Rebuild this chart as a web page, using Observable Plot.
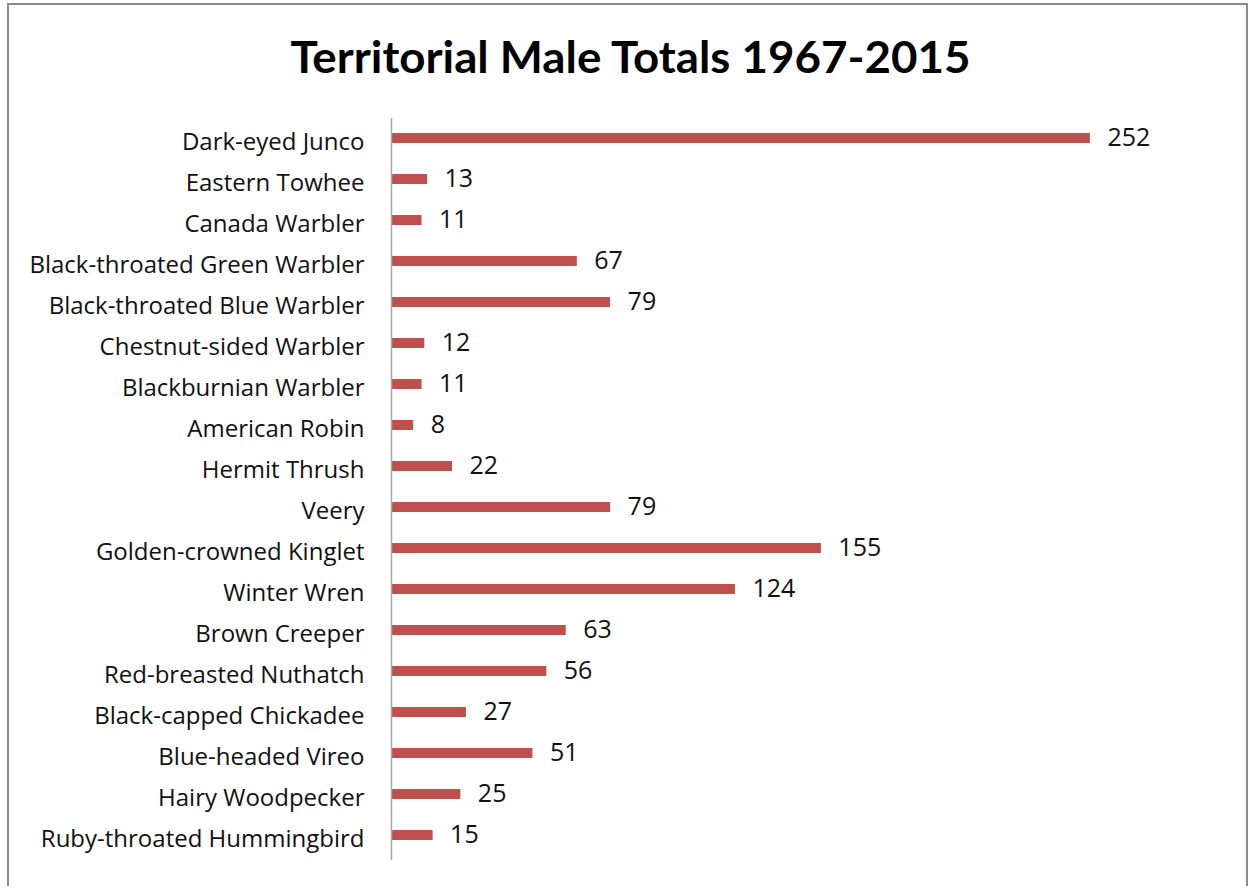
<!DOCTYPE html>
<html>
<head>
<meta charset="utf-8">
<script src="https://cdn.jsdelivr.net/npm/d3@7"></script>
<script src="https://cdn.jsdelivr.net/npm/@observablehq/plot@0.6"></script>
<style>
  html, body { margin: 0; padding: 0; background: #fff; }
  #wrap { position: relative; width: 1254px; height: 886px; overflow: hidden; background: #fff; }
  #frame { position: absolute; left: 7px; top: 3px; width: 1241px; height: 950px; border: 2px solid #8a8a8a; box-sizing: border-box; }
  #title { position: absolute; left: 0; width: 1260px; top: 30px; text-align: center; font-family: Lato, sans-serif; font-weight: bold; font-size: 44px; color: #000; white-space: nowrap; }
  #title span { display: inline-block; transform-origin: center; }
  #chart { position: absolute; left: 0; top: 100px; }
</style>
</head>
<body>
<div id="wrap">
  <div id="frame"></div>
  <div id="title"><span id="tt">Territorial Male Totals 1967-2015</span></div>
  <div id="chart"></div>
</div>
<script>
const species = [
  "Dark-eyed Junco", "Eastern Towhee", "Canada Warbler", "Black-throated Green Warbler",
  "Black-throated Blue Warbler", "Chestnut-sided Warbler", "Blackburnian Warbler",
  "American Robin", "Hermit Thrush", "Veery", "Golden-crowned Kinglet", "Winter Wren",
  "Brown Creeper", "Red-breasted Nuthatch", "Black-capped Chickadee", "Blue-headed Vireo",
  "Hairy Woodpecker", "Ruby-throated Hummingbird"
];
const totals = [252, 13, 11, 67, 79, 12, 11, 8, 22, 79, 155, 124, 63, 56, 27, 51, 25, 15];

const data = species.map((s, i) => ({species: s, total: totals[i]}));

// fit title width
const tt = document.getElementById("tt");
const w = tt.getBoundingClientRect().width;
tt.style.transform = `scaleX(${680 / w})`;

const plot = Plot.plot({
  width: 1254,
  height: 786,
  marginLeft: 391,
  marginRight: 31,
  marginTop: 18,
  marginBottom: 26,
  style: {fontFamily: "'Open Sans', sans-serif", fontSize: "24px", color: "#111", background: "transparent"},
  x: {domain: [0, 300], axis: null},
  y: {domain: species, padding: 0, axis: null},
  marks: [
    Plot.barX(data, {x: "total", y: "species", fill: "#C0504D", insetTop: 13, insetBottom: 18}),
    Plot.ruleX([0], {stroke: "#a6a6a6", strokeWidth: 1.5}),
    Plot.axisY({tickSize: 0, tickPadding: 27, fontSize: 24, dy: 1, textAnchor: "end", label: null}),
    Plot.text(data, {x: "total", y: "species", text: d => String(d.total), dx: 17, dy: -3, textAnchor: "start", fontSize: 25, fill: "#111"})
  ]
});
document.getElementById("chart").appendChild(plot);
</script>
</body>
</html>
